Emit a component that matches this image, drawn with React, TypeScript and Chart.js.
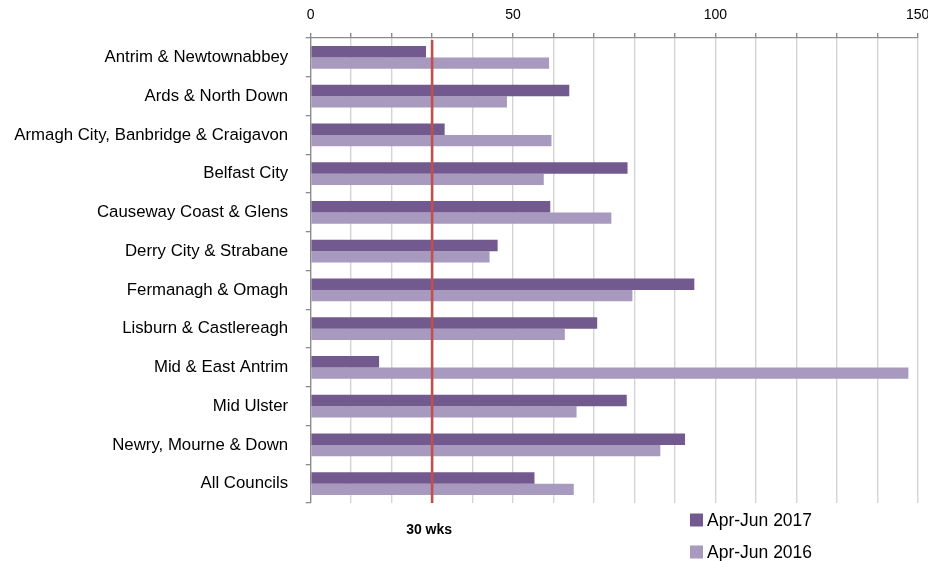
import React, { useEffect, useRef } from "react";
import { Chart, registerables } from "chart.js";

Chart.register(...registerables);

const categories = [
  "Antrim & Newtownabbey",
  "Ards & North Down",
  "Armagh City, Banbridge & Craigavon",
  "Belfast City",
  "Causeway Coast & Glens",
  "Derry City & Strabane",
  "Fermanagh & Omagh",
  "Lisburn & Castlereagh",
  "Mid & East Antrim",
  "Mid Ulster",
  "Newry, Mourne & Down",
  "All Councils",
];

const seriesNames = ["Apr-Jun 2017", "Apr-Jun 2016"];
const apr2017 = [28.5, 63.9, 33.1, 78.3, 59.2, 46.2, 94.8, 70.8, 16.9, 78.1, 92.5, 55.3];
const apr2016 = [58.9, 48.5, 59.5, 57.6, 74.3, 44.2, 79.5, 62.8, 147.7, 65.7, 86.4, 65.0];
const labeledTicks = [0, 50, 100, 150];
const targetWeeks = 30;
const targetLabel = "30 wks";

const FONT = "'Liberation Sans', Arial, sans-serif";
const DARK = "#725a8f";
const LIGHT = "#a89abf";

const targetPlugin = {
  id: "targetLine",
  afterDatasetsDraw(chart: any) {
    const { ctx, chartArea, scales } = chart;
    const x = scales.x.getPixelForValue(targetWeeks);
    ctx.save();
    ctx.strokeStyle = "#c0504d";
    ctx.lineWidth = 2.6;
    ctx.beginPath();
    ctx.moveTo(x, chartArea.top + 2);
    ctx.lineTo(x, chartArea.bottom);
    ctx.stroke();
    ctx.fillStyle = "#000";
    ctx.font = `bold 14px ${FONT}`;
    ctx.textAlign = "center";
    ctx.textBaseline = "middle";
    ctx.fillText(targetLabel, x - 3, chartArea.bottom + 27);
    ctx.restore();
  },
};

const legendPlugin = {
  id: "customLegend",
  afterDraw(chart: any) {
    const { ctx, chartArea } = chart;
    const left = 690;
    const rows = [chartArea.bottom + 17, chartArea.bottom + 49];
    ctx.save();
    ctx.font = `17.5px ${FONT}`;
    ctx.textBaseline = "middle";
    ctx.textAlign = "left";
    chart.data.datasets.forEach((ds: any, i: number) => {
      const cy = rows[i];
      ctx.fillStyle = ds.backgroundColor;
      ctx.fillRect(left, cy - 6.5, 13, 13);
      ctx.fillStyle = "#000";
      ctx.fillText(ds.label, left + 17, cy + 1);
    });
    ctx.restore();
  },
};

export default function App() {
  const canvasRef = useRef<HTMLCanvasElement | null>(null);

  useEffect(() => {
    if (!canvasRef.current) return;
    const chart = new Chart(canvasRef.current, {
      type: "bar",
      data: {
        labels: categories,
        datasets: [
          {
            label: seriesNames[0],
            data: apr2017,
            backgroundColor: DARK,
            barPercentage: 1,
            categoryPercentage: 0.585,
          },
          {
            label: seriesNames[1],
            data: apr2016,
            backgroundColor: LIGHT,
            barPercentage: 1,
            categoryPercentage: 0.585,
          },
        ],
      },
      options: {
        indexAxis: "y",
        responsive: true,
        maintainAspectRatio: false,
        animation: false,
        layout: { padding: { left: 0, right: 10.3, top: 0, bottom: 58 } },
        scales: {
          x: {
            position: "top",
            min: 0,
            max: 150,
            ticks: {
              stepSize: 10,
              autoSkip: false,
              maxRotation: 0,
              padding: 9,
              color: "#000",
              font: { family: FONT, size: 14 },
              callback: (v: any) => (labeledTicks.includes(Number(v)) ? String(v) : ""),
            },
            grid: {
              color: "#d4d4d4",
              lineWidth: 1.4,
              tickColor: "#8c8c8c",
              tickLength: 5,
            },
            border: { color: "#8c8c8c", width: 1.3 },
            afterFit: (s: any) => {
              s.height = 38;
              s.paddingLeft = 0;
              s.paddingRight = 0;
            },
          },
          y: {
            ticks: {
              padding: 17.5,
              color: "#000",
              font: { family: FONT, size: 16.8 },
            },
            grid: {
              drawOnChartArea: false,
              offset: true,
              tickLength: 5,
              tickColor: "#8c8c8c",
              lineWidth: 1.3,
            },
            border: { color: "#8c8c8c", width: 1.3 },
            afterFit: (s: any) => {
              s.width = 310.7;
            },
          },
        },
        plugins: {
          legend: { display: false },
          tooltip: { enabled: false },
        },
      },
      plugins: [targetPlugin, legendPlugin],
    });
    return () => chart.destroy();
  }, []);

  return (
    <div style={{ position: "absolute", left: 0, top: 0, width: 928, height: 561 }}>
      <canvas ref={canvasRef} />
    </div>
  );
}
